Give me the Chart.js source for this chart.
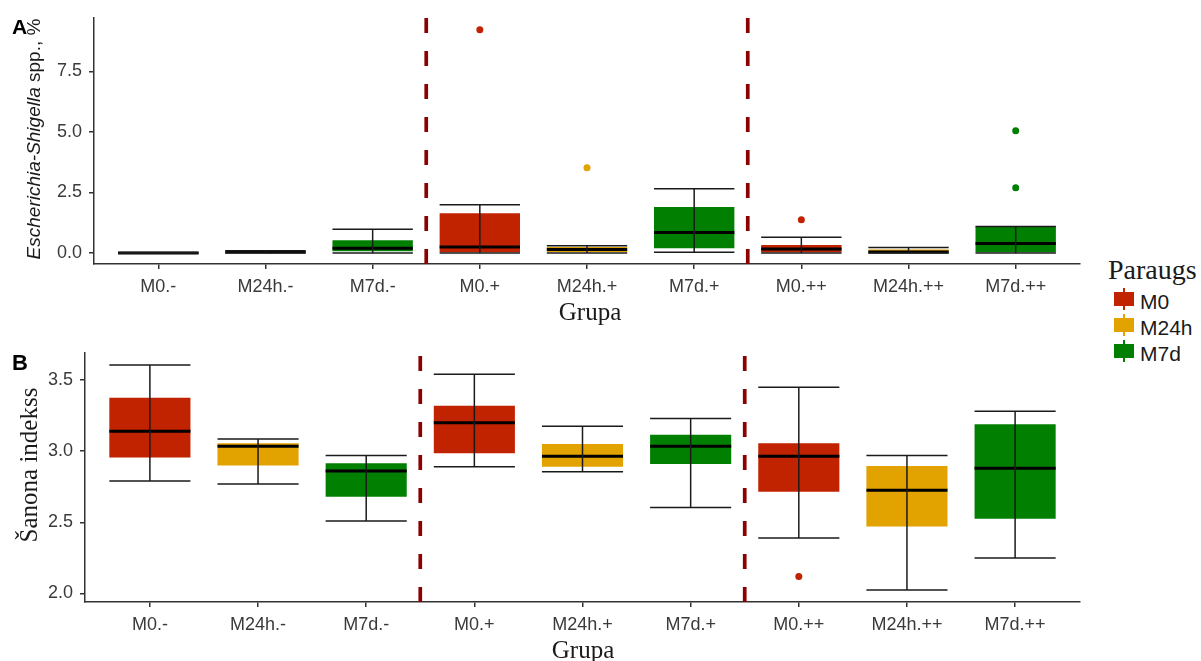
<!DOCTYPE html>
<html>
<head>
<meta charset="utf-8">
<script src="https://cdn.jsdelivr.net/npm/chart.js@4.4.0/dist/chart.umd.min.js"></script>
<style>
  html, body { margin: 0; padding: 0; background: #fff; }
  #fig { position: relative; width: 1201px; height: 661px; overflow: hidden; font-family: "Liberation Sans", Arial, sans-serif; }
  canvas { position: absolute; left: 0; }
  .lbl { position: absolute; line-height: 1; white-space: nowrap; color: #000; }
  .serif { font-family: "Liberation Serif", "Times New Roman", serif; }
  .rot { transform: translate(-50%, -50%) rotate(-90deg); }
  .mid { transform: translateX(-50%); }
</style>
</head>
<body>
<div id="fig">
  <canvas id="chartA" width="1090" height="330" style="top:0"></canvas>
  <canvas id="chartB" width="1090" height="331" style="top:330px"></canvas>

  <div class="lbl" style="left:12px;top:16px;font-size:21px;font-weight:bold">A</div>
  <div class="lbl rot" style="left:33px;top:139px;font-size:19px;color:#1a1a1a"><i>Escherichia-Shigella</i> spp., %</div>
  <div class="lbl serif mid" style="left:590px;top:299px;font-size:25px;color:#1a1a1a">Grupa</div>

  <div class="lbl" style="left:12px;top:352px;font-size:22px;font-weight:bold">B</div>
  <div class="lbl serif rot" style="left:28px;top:465px;font-size:25px;color:#1a1a1a">Šanona indekss</div>
  <div class="lbl serif mid" style="left:583px;top:637px;font-size:25px;color:#1a1a1a">Grupa</div>

  <div class="lbl serif" style="left:1108px;top:256px;font-size:28px;color:#1a1a1a">Paraugs</div>
  <div id="legend"></div>
</div>

<script>
// groups on the x axis, three sample times each
const categories = ['M0.-', 'M24h.-', 'M7d.-', 'M0.+', 'M24h.+', 'M7d.+', 'M0.++', 'M24h.++', 'M7d.++'];
const sampleGroups = ['M0', 'M24h', 'M7d'];
const groupColors = ['#C12200', '#E2A200', '#007F00'];
const separators = [2.5, 5.5];

// A: Escherichia-Shigella spp., %
const ecoliMin = [0, 0, 0, 0, 0, 0.04, 0, 0, 0];
const ecoliQ1 = [0, 0, 0.08, 0, 0.05, 0.2, 0, 0, 0];
const ecoliMedian = [0, 0.05, 0.2, 0.25, 0.15, 0.85, 0.17, 0.05, 0.4];
const ecoliQ3 = [0.02, 0.08, 0.53, 1.64, 0.25, 1.9, 0.33, 0.15, 1.1];
const ecoliMax = [0.02, 0.1, 0.98, 2.0, 0.3, 2.66, 0.65, 0.23, 1.1];
const ecoliOutliers = [[], [], [], [9.22], [3.52], [], [1.38], [], [5.05, 2.7]];
const ecoliTicks = [0, 2.5, 5, 7.5];

// B: Shannon index
const shannonMin = [2.79, 2.77, 2.51, 2.89, 2.855, 2.605, 2.39, 2.025, 2.25];
const shannonQ1 = [2.955, 2.9, 2.68, 2.985, 2.89, 2.91, 2.715, 2.47, 2.525];
const shannonMedian = [3.14, 3.035, 2.86, 3.2, 2.965, 3.035, 2.965, 2.725, 2.88];
const shannonQ3 = [3.375, 3.055, 2.915, 3.32, 3.05, 3.115, 3.055, 2.895, 3.19];
const shannonMax = [3.605, 3.085, 2.97, 3.54, 3.175, 3.23, 3.45, 2.97, 3.28];
const shannonOutliers = [[], [], [], [], [], [], [2.12], [], []];
const shannonTicks = [2.0, 2.5, 3.0, 3.5];

const tickFont = { family: 'Liberation Sans', size: 18 };
const tickColor = '#3a3a3a';
const axisColor = '#333';

function whiskerPlugin(st) {
  return {
    id: 'boxWhisker',
    beforeDatasetsDraw(chart) {
      const { ctx, chartArea, scales: { x } } = chart;
      ctx.save();
      ctx.strokeStyle = '#8B0000';
      ctx.lineWidth = 3.7;
      ctx.setLineDash([15, 18]);
      separators.forEach(s => {
        const px = x.getPixelForValue(s);
        ctx.beginPath();
        ctx.moveTo(px, chartArea.bottom);
        ctx.lineTo(px, chartArea.top);
        ctx.stroke();
      });
      ctx.restore();
    },
    afterDatasetsDraw(chart) {
      const { ctx, scales: { x, y } } = chart;
      const half = (x.getPixelForValue(1) - x.getPixelForValue(0)) * 0.75 / 2;
      const seg = (x1, y1, x2, y2) => { ctx.beginPath(); ctx.moveTo(x1, y1); ctx.lineTo(x2, y2); ctx.stroke(); };
      ctx.save();
      categories.forEach((c, i) => {
        const cx = x.getPixelForValue(i);
        const ym = y.getPixelForValue(st.median[i]);
        ctx.strokeStyle = '#000';
        ctx.lineWidth = 3;
        seg(cx - half, ym, cx + half, ym);
        const ylo = y.getPixelForValue(st.min[i]);
        const yhi = y.getPixelForValue(st.max[i]);
        ctx.strokeStyle = '#1a1a1a';
        ctx.lineWidth = 1.5;
        seg(cx, ylo, cx, yhi);
        seg(cx - half, ylo, cx + half, ylo);
        seg(cx - half, yhi, cx + half, yhi);
      });
      ctx.restore();
    }
  };
}

function boxChart(id, st, ticks, yMin, yMax, padTop, yWidth, xHeight) {
  const boxSets = sampleGroups.map((g, gi) => ({
    type: 'bar',
    label: g,
    data: categories.map((c, i) => i % 3 === gi ? { x: i, y: [st.q1[i], st.q3[i]] } : null).filter(Boolean),
    backgroundColor: groupColors[gi],
    borderWidth: 0,
    grouped: false,
    barPercentage: 0.75,
    categoryPercentage: 1
  }));
  const outlierSets = sampleGroups.map((g, gi) => ({
    type: 'scatter',
    label: g,
    data: categories.flatMap((c, i) => i % 3 === gi ? st.outliers[i].map(v => ({ x: i, y: v })) : []),
    pointRadius: 3.5,
    pointBackgroundColor: groupColors[gi],
    pointBorderWidth: 0
  }));

  return new Chart(document.getElementById(id), {
    type: 'bar',
    data: { datasets: boxSets.concat(outlierSets) },
    plugins: [whiskerPlugin(st)],
    options: {
      responsive: false,
      animation: false,
      events: [],
      layout: { padding: { top: padTop, right: 10, left: 0, bottom: 0 } },
      plugins: { legend: { display: false }, tooltip: { enabled: false } },
      scales: {
        x: {
          type: 'linear',
          min: -0.6,
          max: 8.6,
          offset: false,
          afterBuildTicks: scale => { scale.ticks = categories.map((c, i) => ({ value: i })); },
          afterFit: scale => { scale.height = xHeight; },
          ticks: { callback: v => categories[v], autoSkip: false, maxRotation: 0, font: tickFont, color: tickColor, padding: 7 },
          grid: { display: true, offset: false, drawOnChartArea: false, drawTicks: true, tickLength: 5, color: axisColor, lineWidth: 1.5 },
          border: { display: true, color: axisColor, width: 1.5 }
        },
        y: {
          type: 'linear',
          min: yMin,
          max: yMax,
          afterBuildTicks: scale => { scale.ticks = ticks.map(v => ({ value: v })); },
          afterFit: scale => { scale.width = yWidth; },
          ticks: { callback: v => Number(v).toFixed(1), font: tickFont, color: tickColor, padding: 7 },
          grid: { display: true, drawOnChartArea: false, drawTicks: true, tickLength: 5, color: axisColor, lineWidth: 1.5 },
          border: { display: true, color: axisColor, width: 1.5 }
        }
      }
    }
  });
}

boxChart('chartA', {
  min: ecoliMin, q1: ecoliQ1, median: ecoliMedian, q3: ecoliQ3, max: ecoliMax, outliers: ecoliOutliers
}, ecoliTicks, -0.45, 9.71, 16, 94, 66);

boxChart('chartB', {
  min: shannonMin, q1: shannonQ1, median: shannonMedian, q3: shannonQ3, max: shannonMax, outliers: shannonOutliers
}, shannonTicks, 1.94, 3.69, 23, 85, 59);

// shared legend
const legend = document.getElementById('legend');
sampleGroups.forEach((g, gi) => {
  const cy = 299 + gi * 26;
  const key = document.createElement('div');
  key.style.cssText = `position:absolute;left:1114px;top:${cy - 7}px;width:20px;height:14px;background:${groupColors[gi]}`;
  const stem = document.createElement('div');
  stem.style.cssText = `position:absolute;left:1123px;top:${cy - 11}px;width:1.5px;height:22px;background:${groupColors[gi]}`;
  const txt = document.createElement('div');
  txt.className = 'lbl';
  txt.style.cssText = `left:1140px;top:${cy - 8}px;font-size:21px;color:#1a1a1a`;
  txt.textContent = g;
  legend.append(stem, key, txt);
});
</script>
</body>
</html>
